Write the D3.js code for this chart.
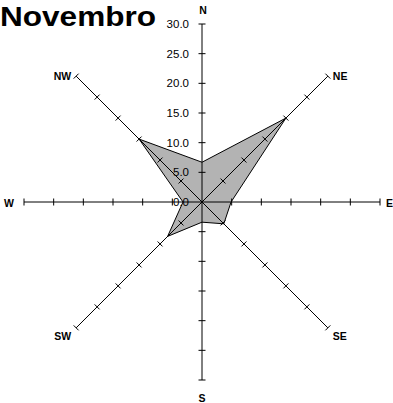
<!DOCTYPE html>
<html>
<head>
<meta charset="utf-8">
<script src="https://cdn.jsdelivr.net/npm/d3@7"></script>
<style>
  body { margin: 0; background: #fff; }
  text { font-family: "Liberation Sans", Arial, sans-serif; }
</style>
</head>
<body>
<div id="chart"></div>
<script>
'use strict';

// Wind directions, clockwise from north
const directions = ['N', 'NE', 'E', 'SE', 'S', 'SW', 'W', 'NW'];
// Frequency per direction (%)
const values = [6.7, 20.0, 4.9, 5.2, 3.4, 8.2, 3.2, 15.0];
// Radial ticks
const ticks = [0, 5, 10, 15, 20, 25, 30];
const tickLabels = ['0.0', '5.0', '10.0', '15.0', '20.0', '25.0', '30.0'];

const width = 393, height = 403;
const cx = 202, cy = 202, radius = 178;

const svg = d3.select('#chart').append('svg')
    .attr('width', width)
    .attr('height', height);

// title (slightly wide, like the original export)
svg.append('text')
    .attr('x', 0)
    .attr('y', 25.5)
    .attr('font-size', 28)
    .attr('font-weight', 'bold')
    .attr('textLength', 156)
    .attr('lengthAdjust', 'spacingAndGlyphs')
    .text('Novembro');

const r = d3.scaleLinear().domain([0, 30]).range([0, radius]);
const angle = i => i * Math.PI / 4;   // clockwise from 12 o'clock

const g = svg.append('g').attr('transform', `translate(${cx},${cy})`);

// data polygon
const line = d3.lineRadial()
    .angle((d, i) => angle(i))
    .radius(d => r(d))
    .curve(d3.curveLinearClosed);

g.append('path')
    .datum(values)
    .attr('d', line)
    .attr('fill', '#b3b3b3')
    .attr('stroke', '#000')
    .attr('stroke-width', 1);

// axes with perpendicular ticks
directions.forEach((dir, i) => {
    const a = angle(i);
    const ux = Math.sin(a), uy = -Math.cos(a);   // along axis
    const px = -uy, py = ux;                     // perpendicular
    const ax = g.append('g');
    ax.append('line')
        .attr('x1', 0).attr('y1', 0)
        .attr('x2', ux * r(30)).attr('y2', uy * r(30))
        .attr('stroke', '#000');
    const tlen = 3.5;
    ticks.slice(1).forEach(t => {
        const x = ux * r(t), y = uy * r(t);
        ax.append('line')
            .attr('x1', x - px * tlen).attr('y1', y - py * tlen)
            .attr('x2', x + px * tlen).attr('y2', y + py * tlen)
            .attr('stroke', '#000');
    });
});

// tick labels on the north axis
g.selectAll('text.tick')
    .data(ticks)
    .join('text')
    .attr('class', 'tick')
    .attr('x', -13)
    .attr('y', d => -r(d) + 4)
    .attr('text-anchor', 'end')
    .attr('font-size', 11.5)
    .text((d, i) => tickLabels[i]);

// direction labels: [dx, dy, anchor] relative to axis end
const labelOffsets = {
    N:  [1, -10.5, 'middle'],
    NE: [5, 4, 'start'],
    E:  [6, 5, 'start'],
    SE: [5, 12, 'start'],
    S:  [0, 22, 'middle'],
    SW: [-5, 12, 'end'],
    W:  [-20, 5, 'start'],
    NW: [-5, 4, 'end']
};

directions.forEach((dir, i) => {
    const a = angle(i);
    const x = Math.sin(a) * r(30), y = -Math.cos(a) * r(30);
    const [dx, dy, anchor] = labelOffsets[dir];
    g.append('text')
        .attr('x', x + dx)
        .attr('y', y + dy)
        .attr('text-anchor', anchor)
        .attr('font-size', 10.5)
        .attr('font-weight', 'bold')
        .text(dir);
});
</script>
</body>
</html>
